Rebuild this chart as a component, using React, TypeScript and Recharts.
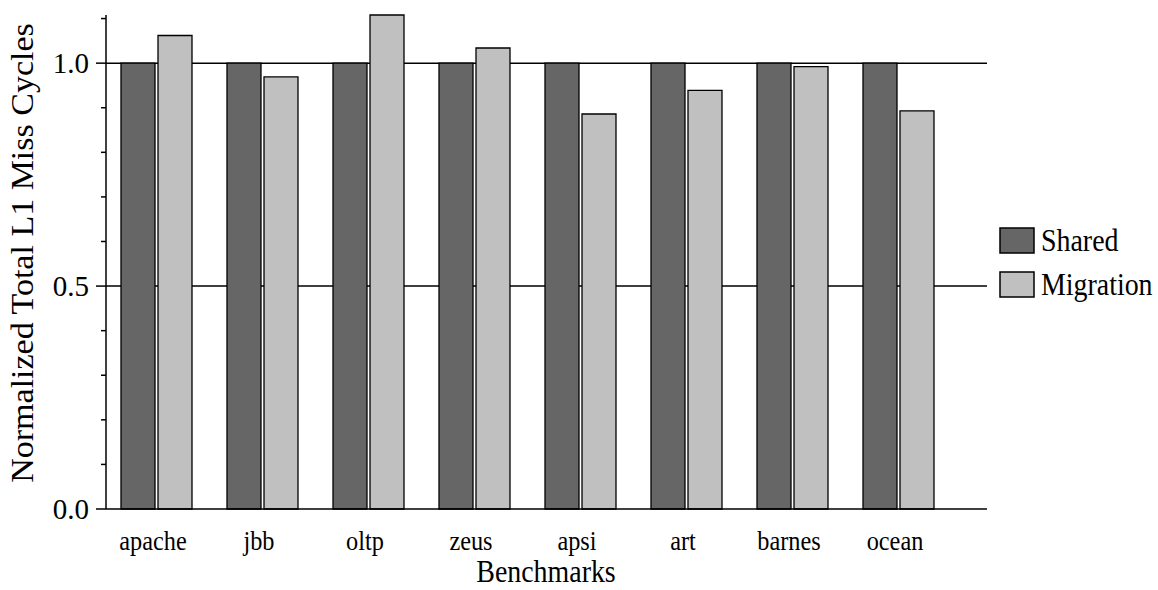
import React from 'react';
import { BarChart, Bar, XAxis, YAxis, CartesianGrid } from 'recharts';

const categories = ['apache', 'jbb', 'oltp', 'zeus', 'apsi', 'art', 'barnes', 'ocean'];
const sharedValues = [1, 1, 1, 1, 1, 1, 1, 1];
const migrationValues = [1.062, 0.969, 1.108, 1.034, 0.886, 0.939, 0.992, 0.893];
const seriesNames = ['Shared', 'Migration'];
const seriesColors = ['#666666', '#c0c0c0'];
const yTicks = [0, 0.1, 0.2, 0.3, 0.4, 0.5, 0.6, 0.7, 0.8, 0.9, 1.0, 1.1];
const majorTicks = [0, 0.5, 1.0];

const FONT = '"Liberation Serif", "Times New Roman", serif';
const SQUEEZE = 0.9; // source text is a little narrower than Times

const data = categories.map((name, i) => ({
  name,
  Shared: sharedValues[i],
  Migration: migrationValues[i],
}));

const isMajor = (v: number) => majorTicks.some(m => Math.abs(m - v) < 1e-6);

// text drawn slightly condensed horizontally
const Narrow = ({ x, y, size, anchor = 'start', children }: any) => (
  <text
    transform={`translate(${x},${y}) scale(${SQUEEZE},1)`}
    textAnchor={anchor}
    fontFamily={FONT}
    fontSize={size}
    fill="#000"
  >
    {children}
  </text>
);

const YTick = (props: any) => {
  const { x, y, payload } = props;
  const major = isMajor(payload.value);
  return (
    <g>
      <line x1={x - (major ? 10 : 5)} x2={x} y1={y} y2={y} stroke="#000" strokeWidth={1.5} />
      {major && (
        <text x={x - 17} y={y + 10} textAnchor="end" fontFamily={FONT} fontSize={29} fill="#000">
          {payload.value.toFixed(1)}
        </text>
      )}
    </g>
  );
};

const XTick = (props: any) => {
  const { x, y, payload } = props;
  return <Narrow x={x - 3} y={y + 41} size={27} anchor="middle">{payload.value}</Narrow>;
};

const App: React.FC = () => {
  return (
    <div style={{ position: 'absolute', left: 0, top: 0, width: 1158, height: 590, background: '#fff' }}>
      <BarChart
        width={1158}
        height={590}
        data={data}
        margin={{ top: 15, right: 171, bottom: 0, left: 0 }}
        barSize={34}
        barGap={3}
      >
        <CartesianGrid
          vertical={false}
          horizontalValues={[0.5, 1.0]}
          stroke="#000"
          strokeWidth={1.5}
        />
        <XAxis
          dataKey="name"
          height={81}
          stroke="#000"
          strokeWidth={1.5}
          tickLine={false}
          tickSize={0}
          tickMargin={0}
          padding={{ left: -3, right: 36 }}
          tick={<XTick />}
          label={{
            content: () => <Narrow x={546} y={582} size={31} anchor="middle">Benchmarks</Narrow>,
          }}
        />
        <YAxis
          width={106}
          domain={[0, 1.108]}
          ticks={yTicks}
          interval={0}
          stroke="#000"
          strokeWidth={1.5}
          tickLine={false}
          tickSize={0}
          tickMargin={0}
          tick={<YTick />}
          label={{
            content: () => (
              <text
                transform={`translate(33,253) rotate(-90) scale(1,${SQUEEZE})`}
                textAnchor="middle"
                fontFamily={FONT}
                fontSize={34}
                fill="#000"
              >
                Normalized Total L1 Miss Cycles
              </text>
            ),
          }}
        />
        {seriesNames.map((s, i) => (
          <Bar
            key={s}
            dataKey={s}
            fill={seriesColors[i]}
            stroke="#000"
            strokeWidth={1.3}
            isAnimationActive={false}
          />
        ))}
      </BarChart>
      <svg
        width={1158}
        height={590}
        style={{ position: 'absolute', left: 0, top: 0, pointerEvents: 'none' }}
      >
        {seriesNames.map((s, i) => (
          <g key={s}>
            <rect x={1000} y={228 + i * 44} width={34} height={25} fill={seriesColors[i]} stroke="#000" strokeWidth={1.5} />
            <Narrow x={1041} y={251 + i * 44} size={31}>{s}</Narrow>
          </g>
        ))}
      </svg>
    </div>
  );
};

export default App;
